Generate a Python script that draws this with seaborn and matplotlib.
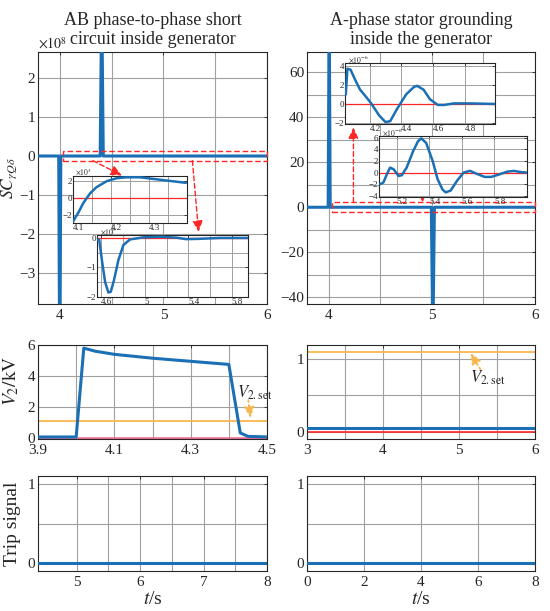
import matplotlib
matplotlib.use("Agg")
import matplotlib.pyplot as plt
from matplotlib.patches import Rectangle
import seaborn as sns

W, H = 550, 611

BLUE = "#1a6fb5"
RED = "#ff2626"
PINK = "#f06a8e"
ORANGE = "#f9b64f"
GRID = "#a0a0a0"

V2_SET = 1.1

# ---- AB phase-to-phase short circuit inside generator ----
ab_t = [3.79, 3.99, 4.0, 4.01, 4.39, 4.405, 4.42, 6.0]
ab_sc = [0, 0, -6.0, 0, 0, 4.0, 0, 0]  # x1e8
ab_zoom1_t = [4.1, 4.107, 4.114, 4.127, 4.145, 4.162, 4.189, 4.215, 4.241,
              4.276, 4.311, 4.347, 4.397]
ab_zoom1_sc = [-2.75, -2.2, -1.7, -0.57, 0.57, 1.3, 2.0, 2.34, 2.45,
               2.45, 2.26, 2.07, 1.8]  # x1e3
ab_zoom2_t = [4.56, 4.58, 4.605, 4.635, 4.665, 4.687, 4.717, 4.757, 4.803,
              4.864, 4.986, 5.14, 5.29, 5.38, 5.5, 5.69, 5.95]
ab_zoom2_sc = [-0.07, -0.05, -0.75, -1.5, -1.85, -1.82, -1.42, -0.75, -0.24,
               -0.05, 0.02, 0.04, 0.01, -0.04, -0.03, 0.0, 0.0]  # x1e5
ab_v2_t = [3.9, 4.0, 4.02, 4.05, 4.1, 4.2, 4.3, 4.4, 4.43, 4.45, 4.5]
ab_v2 = [0.08, 0.08, 5.8, 5.6, 5.4, 5.15, 4.95, 4.75, 0.34, 0.12, 0.08]
ab_trip_t = [4.39, 8.0]
ab_trip = [0, 0]

# ---- A-phase stator grounding inside the generator ----
sg_t = [3.79, 3.995, 4.005, 4.015, 4.995, 5.01, 5.025, 6.0]
sg_sc = [0, 0, 90, 0, 0, -60, 0, 0]
sg_zoom1_t = [4.05, 4.06, 4.08, 4.11, 4.14, 4.18, 4.21, 4.26, 4.30, 4.33,
              4.37, 4.43, 4.48, 4.50, 4.54, 4.58, 4.63, 4.67, 4.73, 4.84, 4.99]
sg_zoom1_sc = [1.0, 3.7, 3.6, 2.5, 1.5, 0.7, 0.06, -1.2, -1.9, -1.8,
               -0.6, 1.0, 1.8, 1.9, 1.5, 0.5, -0.1, -0.1, 0.06, 0.06, 0.0]  # x1e-6
sg_zoom2_t = [5.097, 5.117, 5.138, 5.158, 5.18, 5.21, 5.23, 5.26, 5.30, 5.33,
              5.35, 5.38, 5.42, 5.45, 5.48, 5.50, 5.53, 5.57, 5.61, 5.65,
              5.69, 5.74, 5.78, 5.82, 5.88, 5.92, 5.96, 6.0]
sg_zoom2_sc = [-2.0, -1.7, -0.3, 0.86, 0.57, -0.57, -0.46, 0.86, 3.7, 5.4,
               5.9, 5.1, 2.0, -1.1, -2.9, -3.4, -3.1, -1.4, 0.0, 0.3,
               -0.2, -0.74, -0.74, -0.4, 0.17, 0.29, 0.1, 0.0]  # x1e-6
sg_v2_t = [3.0, 6.0]
sg_v2 = [0.06, 0.06]
sg_trip_t = [0.0, 8.0]
sg_trip = [0, 0]

# zoom boxes on the main SC axes: (t0, y0, width, height)
ab_box = (4.03, -0.12, 1.97, 0.24)
sg_box = (4.03, -2.0, 1.97, 4.2)

sns.set_theme(style="white")
plt.rcParams["font.family"] = ["Liberation Serif", "DejaVu Serif"]
plt.rcParams["mathtext.fontset"] = "stix"
plt.rcParams["axes.unicode_minus"] = True

fig = plt.figure(figsize=(W / 100, H / 100), dpi=100)


def px_axes(x0, y0, x1, y1):
    ax = fig.add_axes([x0 / W, 1 - y1 / H, (x1 - x0) / W, (y1 - y0) / H])
    for s in ax.spines.values():
        s.set_color("#262626")
        s.set_linewidth(0.8)
        s.set_visible(True)
    return ax


def curve(ax, t, v, color=BLUE, lw=2.2, z=3):
    sns.lineplot(x=t, y=v, ax=ax, color=color, linewidth=lw, sort=False,
                 estimator=None, legend=False, zorder=z)


def style(ax, xlim, ylim, xt, yt, xlab=None, ylab=None, xminor=(), yminor=(),
          fs=11, inset=False):
    ax.set_xlim(*xlim)
    ax.set_ylim(*ylim)
    xlab = xlab or [f"{v:g}" for v in xt]
    ylab = ylab or [f"{v:g}".replace("-", "\u2212") for v in yt]
    if inset:
        ax.set_xticks(xt, xlab, ha="left")
    else:
        ax.set_xticks(xt, xlab)
    ax.set_yticks(yt, ylab)
    ax.set_xticks(list(xminor), minor=True)
    ax.set_yticks(list(yminor), minor=True)
    ax.grid(True, which="both", color=GRID, linewidth=0.7 if inset else 0.8)
    ax.set_axisbelow(True)
    ax.tick_params(which="major", direction="in", length=2.5, width=0.6,
                   labelsize=fs, pad=0.5 if inset else 3.5, colors="#262626",
                   top=True, right=True)
    if not inset:
        ax.tick_params(axis="y", which="major", pad=2)
    ax.tick_params(which="minor", length=0)
    ax.set_xlabel("")
    ax.set_ylabel("")


def arrow(ax, start, end, color=RED, ls=(0, (3.5, 2)), lw=1.0):
    ax.annotate("", xy=end, xytext=start,
                arrowprops=dict(arrowstyle="-|>,head_width=0.25,head_length=0.55",
                                color=color, lw=lw, ls=ls, shrinkA=0, shrinkB=0))


# ---------------- top row: SC ----------------
ax = px_axes(38, 52, 267, 304)
curve(ax, ab_t, ab_sc)
style(ax, (3.79, 6.0), (-3.8, 2.67), [4, 5, 6], [-3, -2, -1, 0, 1, 2],
      xminor=[4.5, 5.5])
ax.add_patch(Rectangle(ab_box[:2], ab_box[2], ab_box[3], fill=False, ec=RED,
                       lw=1.0, ls=(0, (4, 2)), zorder=4, clip_on=False))
arrow(ax, (4.32, -0.12), (4.6, -0.5))
arrow(ax, (5.28, -0.12), (5.34, -1.95))
ax.text(0.0, 1.0, r"$\times10^{8}$", transform=ax.transAxes, fontsize=10,
        va="bottom", ha="left")
ax.set_title("AB phase-to-phase short\ncircuit inside generator",
             fontsize=13, pad=6, linespacing=1.1)
ax.set_ylabel(r"$SC_{\gamma Q\delta}$", fontsize=12.5)
ax.yaxis.set_label_coords(-0.082, 0.5)

ax = px_axes(307, 52, 535, 304)
curve(ax, sg_t, sg_sc)
style(ax, (3.79, 6.0), (-43, 69), [4, 5, 6], [-40, -20, 0, 20, 40, 60],
      xminor=[4.5, 5.5], yminor=[-30, -10, 10, 30, 50])
ax.add_patch(Rectangle(sg_box[:2], sg_box[2], sg_box[3], fill=False, ec=RED,
                       lw=1.0, ls=(0, (4, 2)), zorder=4, clip_on=False))
arrow(ax, (4.24, 2.2), (4.24, 35.5))
arrow(ax, (4.91, 4.6), (4.91, 2.2))
ax.set_title("A-phase stator grounding\ninside the generator",
             fontsize=13, pad=6, linespacing=1.1)

# ---------------- insets ----------------
ax = px_axes(73, 176, 187, 223)
ax.axhline(0, color=RED, lw=0.9, zorder=2)
curve(ax, ab_zoom1_t, ab_zoom1_sc, lw=1.8)
style(ax, (4.1, 4.4), (-2.9, 2.6), [4.1, 4.2, 4.3], [-2, 0, 2],
      xminor=[4.15, 4.25, 4.35], fs=6.5, inset=True)
ax.text(0.02, 0.97, r"$\times10^{3}$", transform=ax.transAxes, fontsize=5.5,
        va="bottom", ha="left")

ax = px_axes(97, 235, 248, 297)
ax.axhline(0, color=RED, lw=0.9, zorder=2)
curve(ax, ab_zoom2_t, ab_zoom2_sc, lw=1.8)
style(ax, (4.56, 5.95), (-2.0, 0.1), [4.6, 5.0, 5.4, 5.8], [-2, -1, 0],
      xminor=[4.8, 5.2, 5.6], yminor=[-1.5, -0.5], fs=6.5, inset=True)
ax.text(0.02, 0.97, r"$\times10^{5}$", transform=ax.transAxes, fontsize=5.5,
        va="bottom", ha="left")

ax = px_axes(345, 63, 495, 124)
ax.axhline(0, color=RED, lw=0.9, zorder=2)
curve(ax, sg_zoom1_t, sg_zoom1_sc, lw=1.8)
style(ax, (4.045, 4.99), (-2.1, 4.3), [4.2, 4.4, 4.6, 4.8], [-2, 0, 2, 4],
      fs=6.5, inset=True)
ax.text(0.02, 0.97, r"$\times10^{-6}$", transform=ax.transAxes, fontsize=5.5,
        va="bottom", ha="left")

ax = px_axes(379, 136, 527, 197)
ax.axhline(0, color=RED, lw=0.9, zorder=2)
curve(ax, sg_zoom2_t, sg_zoom2_sc, lw=1.8)
style(ax, (5.09, 6.0), (-4.2, 6.3), [5.2, 5.4, 5.6, 5.8],
      [-4, -2, 0, 2, 4, 6], fs=6.5, inset=True)
ax.text(0.02, 0.97, r"$\times10^{-6}$", transform=ax.transAxes, fontsize=5.5,
        va="bottom", ha="left")

# ---------------- middle row: V2 ----------------
ax = px_axes(38, 345, 267, 439)
ax.axhline(0, color=PINK, lw=1.8, zorder=2)
ax.axhline(V2_SET, color=ORANGE, lw=1.3, zorder=2)
curve(ax, ab_v2_t, ab_v2)
style(ax, (3.9, 4.5), (-0.05, 6.0), [3.9, 4.1, 4.3, 4.5], [0, 2, 4, 6],
      xminor=[4.0, 4.2, 4.4])
ax.text(4.421, 2.6, r"$V_{\mathrm{2.set}}$", fontsize=12, ha="left",
        va="baseline")
arrow(ax, (4.451, 2.45), (4.457, 1.3), color=ORANGE, ls=":", lw=1.3)
ax.set_ylabel(r"$V_{2}/\mathrm{kV}$", fontsize=14)
ax.yaxis.set_label_coords(-0.075, 0.62)

ax = px_axes(307, 345, 535, 439)
ax.axhline(0, color=RED, lw=1.2, zorder=2)
ax.axhline(V2_SET, color=ORANGE, lw=1.3, zorder=2)
curve(ax, sg_v2_t, sg_v2)
style(ax, (3.0, 6.0), (-0.095, 1.19), [3, 4, 5, 6], [0, 1],
      xminor=[3.5, 4.5, 5.5], yminor=[0.5])
ax.text(5.15, 0.68, r"$V_{\mathrm{2.set}}$", fontsize=12, ha="left",
        va="baseline")
arrow(ax, (5.28, 0.86), (5.15, 1.08), color=ORANGE, ls=":", lw=1.3)

# ---------------- bottom row: trip signal ----------------
ax = px_axes(38, 476, 267, 571)
curve(ax, ab_trip_t, ab_trip)
style(ax, (4.39, 8.0), (-0.1, 1.1), [5, 6, 7, 8], [0, 1],
      xminor=[5.5, 6.5, 7.5], yminor=[0.5])
ax.set_ylabel("Trip signal", fontsize=14)
ax.yaxis.set_label_coords(-0.075, 0.5)
ax.set_xlabel(r"$t$/s", fontsize=14)
ax.xaxis.set_label_coords(0.5, -0.21)

ax = px_axes(307, 476, 535, 571)
curve(ax, sg_trip_t, sg_trip)
style(ax, (0.0, 8.0), (-0.1, 1.1), [0, 2, 4, 6, 8], [0, 1], yminor=[0.5])
ax.set_xlabel(r"$t$/s", fontsize=14)
ax.xaxis.set_label_coords(0.5, -0.21)

fig.savefig("out.png", dpi=100)
